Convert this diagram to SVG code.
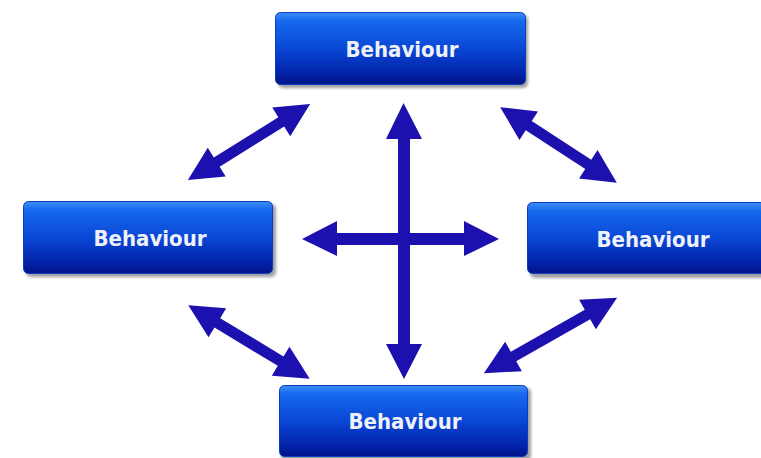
<svg xmlns="http://www.w3.org/2000/svg" width="761" height="458" viewBox="0 0 761 458">
<defs>
<linearGradient id="g" x1="0" y1="0" x2="0" y2="1">
<stop offset="0" stop-color="#3d8cf5"/>
<stop offset="0.12" stop-color="#1669ee"/>
<stop offset="0.5" stop-color="#0a47d6"/>
<stop offset="0.85" stop-color="#0222a8"/>
<stop offset="1" stop-color="#00148a"/>
</linearGradient>
<filter id="sh" x="-10%" y="-10%" width="120%" height="130%">
<feGaussianBlur stdDeviation="1.5"/>
</filter>
<style>
.shadow{fill:#777;opacity:0.7;filter:url(#sh)}
.box{fill:url(#g);stroke:#0a3fc0;stroke-width:1}
.lbl{font-family:"DejaVu Sans Condensed","DejaVu Sans",Verdana,sans-serif;font-weight:bold;font-size:22px;fill:#eef1f8;text-anchor:middle}
.arr{fill:#1c10ae}
</style>
</defs>
<rect width="761" height="458" fill="#ffffff"/>
<g id="node-top">
<rect class="shadow" x="278" y="15" width="250" height="73" rx="5"/>
<rect class="box" x="275.5" y="12.5" width="250" height="72" rx="5"/>
<text class="lbl" x="402" y="57">Behaviour</text>
</g>
<g id="node-left">
<rect class="shadow" x="26" y="204" width="250" height="73" rx="5"/>
<rect class="box" x="23.5" y="201.5" width="249" height="72" rx="5"/>
<text class="lbl" x="150" y="246">Behaviour</text>
</g>
<g id="node-right">
<rect class="shadow" x="530" y="205" width="240" height="73" rx="5"/>
<rect class="box" x="527.5" y="202.5" width="245" height="71" rx="5"/>
<text class="lbl" x="653" y="247">Behaviour</text>
</g>
<g id="node-bottom">
<rect class="shadow" x="281" y="388" width="250" height="73" rx="5"/>
<rect class="box" x="279.5" y="385.5" width="248" height="71" rx="5"/>
<text class="lbl" x="405" y="429">Behaviour</text>
</g>
<g id="connectors">
<path class="arr" d="M302,239 L337,221 L337,233 L398,233 L398,139 L386,139 L403.5,103 L422,139 L410,139 L410,233 L464,233 L464,221 L499,239 L464,256 L464,245 L410,245 L410,344 L422,344 L404,379 L386,344 L398,344 L398,245 L337,245 L337,256 Z"/>
<path class="arr" transform="translate(249,142) rotate(-31.9)" d="M-72,0 L-38,-17 L-38,-5.5 L38,-5.5 L38,-17 L72,0 L38,17 L38,5.5 L-38,5.5 L-38,17 Z"/>
<path class="arr" transform="translate(558.5,145) rotate(33)" d="M-69.5,0 L-35.5,-17 L-35.5,-5.5 L35.5,-5.5 L35.5,-17 L69.5,0 L35.5,17 L35.5,5.5 L-35.5,5.5 L-35.5,17 Z"/>
<path class="arr" transform="translate(249,342) rotate(31.2)" d="M-71,0 L-37,-17 L-37,-5.5 L37,-5.5 L37,-17 L71,0 L37,17 L37,5.5 L-37,5.5 L-37,17 Z"/>
<path class="arr" transform="translate(550.5,335.5) rotate(-29.5)" d="M-76.5,0 L-42.5,-17 L-42.5,-5.5 L42.5,-5.5 L42.5,-17 L76.5,0 L42.5,17 L42.5,5.5 L-42.5,5.5 L-42.5,17 Z"/>
</g>
</svg>
